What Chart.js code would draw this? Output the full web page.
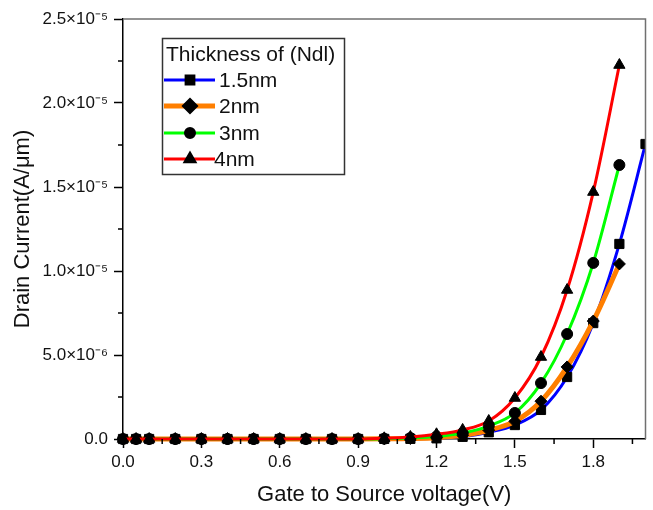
<!DOCTYPE html>
<html lang="en">
<head>
    <meta charset="UTF-8">
    <title>Drain current vs gate voltage</title>
    <style>
        html, body { margin: 0; padding: 0; background: #fff; }
        #wrap { width: 653px; height: 510px; }
    </style>
</head>
<body>
<div id="wrap"><canvas id="idChart" width="653" height="510"></canvas></div>

<script src="https://cdn.jsdelivr.net/npm/chart.js"></script>
<script>
// gate to source voltage (V)
const vgs = [0, 0.05, 0.1, 0.2, 0.3, 0.4, 0.5, 0.6, 0.7, 0.8, 0.9, 1.0, 1.1, 1.2, 1.3, 1.4, 1.5, 1.6, 1.7, 1.8, 1.9, 2.0];

// drain current (A/um)
const id15nm = [0, 0, 0, 0, 0, 0, 0, 0, 0, 0, 0, 0.005e-6, 0.01e-6, 0.04e-6, 0.13e-6, 0.40e-6, 0.83e-6, 1.73e-6, 3.69e-6, 6.90e-6, 1.161e-5, 1.756e-5];
const id2nm  = [0, 0, 0, 0, 0, 0, 0, 0, 0, 0, 0, 0.01e-6, 0.03e-6, 0.08e-6, 0.22e-6, 0.52e-6, 1.05e-6, 2.25e-6, 4.29e-6, 7.02e-6, 1.042e-5];
const id3nm  = [0, 0, 0, 0, 0, 0, 0, 0, 0, 0, 0, 0.02e-6, 0.06e-6, 0.15e-6, 0.36e-6, 0.77e-6, 1.55e-6, 3.33e-6, 6.25e-6, 1.048e-5, 1.631e-5];
const id4nm  = [0, 0, 0, 0, 0, 0, 0, 0, 0, 0, 0, 0.04e-6, 0.12e-6, 0.28e-6, 0.54e-6, 1.07e-6, 2.44e-6, 4.88e-6, 8.87e-6, 1.470e-5, 2.226e-5];

const seriesLabels = ['1.5nm', '2nm', '3nm', '4nm'];
const legendTitle = 'Thickness of (Ndl)';

// minor tick positions
const xMinorTicks = [0.15, 0.45, 0.75, 1.05, 1.35, 1.65, 1.95];
const yMinorTicks = [2.5e-6, 7.5e-6, 1.25e-5, 1.75e-5, 2.25e-5];

const FONT = '"Liberation Sans", Arial, sans-serif';

function pts(ys) {
    return ys.map((v, i) => ({x: vgs[i], y: v}));
}

const SUP = {'-': '\u207B', '0': '\u2070', '1': '\u00B9', '2': '\u00B2', '3': '\u00B3',
    '4': '\u2074', '5': '\u2075', '6': '\u2076', '7': '\u2077', '8': '\u2078', '9': '\u2079'};

function sciLabel(v) {
    if (Math.abs(v) < 1e-12) return '0.0';
    const e = Math.floor(Math.log10(v) + 1e-9);
    const m = v / Math.pow(10, e);
    return m.toFixed(1) + '\u00D710' + String(e).split('').map(c => SUP[c]).join('');
}

function makeSet(i, ys, color, width, style, radius) {
    return {
        label: seriesLabels[i],
        data: pts(ys),
        borderColor: color,
        borderWidth: width,
        pointStyle: style,
        pointRadius: radius,
        pointBackgroundColor: '#000',
        pointBorderColor: '#000',
        pointBorderWidth: 1,
        cubicInterpolationMode: 'monotone',
        clip: {left: false, top: false, right: 0, bottom: false},
        order: 4 - i
    };
}

const datasets = [
    makeSet(0, id15nm, '#0000FF', 3, 'rect', 6.5),
    makeSet(1, id2nm, '#FF7F00', 5, 'rectRot', 6),
    makeSet(2, id3nm, '#00FF00', 3, 'circle', 5.5),
    makeSet(3, id4nm, '#FF0000', 3, 'triangle', 6.5)
];

// frame, minor ticks and the boxed legend
const extras = {
    id: 'extras',
    afterDraw(chart) {
        const {ctx, chartArea: a, scales: {x, y}} = chart;
        ctx.save();
        ctx.strokeStyle = '#000';
        ctx.lineWidth = 1.5;
        ctx.beginPath();
        xMinorTicks.forEach(v => {
            const px = x.getPixelForValue(v);
            ctx.moveTo(px, a.bottom);
            ctx.lineTo(px, a.bottom + 5);
        });
        yMinorTicks.forEach(v => {
            const py = y.getPixelForValue(v);
            ctx.moveTo(a.left, py);
            ctx.lineTo(a.left - 5, py);
        });
        ctx.stroke();

        ctx.strokeStyle = '#707070';
        ctx.beginPath();
        ctx.moveTo(a.left, a.top);
        ctx.lineTo(a.right, a.top);
        ctx.lineTo(a.right, a.bottom);
        ctx.stroke();

        // legend
        const bx = 162.5, by = 38.5, bw = 182, bh = 136;
        ctx.fillStyle = '#fff';
        ctx.fillRect(bx, by, bw, bh);
        ctx.strokeStyle = '#333';
        ctx.lineWidth = 1.5;
        ctx.strokeRect(bx, by, bw, bh);

        ctx.fillStyle = '#111';
        ctx.font = '21px ' + FONT;
        ctx.textBaseline = 'middle';
        ctx.textAlign = 'left';
        ctx.fillText(legendTitle, 166, 55);

        const rows = [80, 106, 133, 159];
        chart.data.datasets.forEach((ds, i) => {
            const ry = rows[i];
            ctx.strokeStyle = ds.borderColor;
            ctx.lineWidth = ds.borderWidth;
            ctx.beginPath();
            ctx.moveTo(164, ry);
            ctx.lineTo(215, ry);
            ctx.stroke();
            ctx.fillStyle = '#000';
            ctx.strokeStyle = '#000';
            Chart.helpers.drawPoint(ctx, {
                pointStyle: ds.pointStyle,
                radius: ds.pointRadius - 1,
                rotation: 0,
                borderWidth: 1
            }, 190, ry);
            ctx.fillStyle = '#111';
            ctx.fillText(ds.label, i === 3 ? 214 : 219, ry + 1);
        });
        ctx.restore();
    }
};

new Chart(document.getElementById('idChart'), {
    type: 'line',
    data: {datasets: datasets},
    options: {
        responsive: false,
        animation: false,
        layout: {padding: {top: 19, right: 7, left: 0, bottom: 0}},
        plugins: {
            legend: {display: false},
            tooltip: {enabled: false}
        },
        scales: {
            x: {
                type: 'linear',
                min: 0,
                max: 2.0,
                afterFit: s => { s.height = 71; },
                ticks: {
                    stepSize: 0.3,
                    includeBounds: false,
                    padding: 4,
                    color: '#111',
                    font: {family: FONT, size: 17},
                    callback: v => v.toFixed(1)
                },
                grid: {drawOnChartArea: false, tickLength: 9, tickWidth: 1.5, tickColor: '#000'},
                border: {color: '#000', width: 1.5},
                title: {
                    display: true,
                    text: 'Gate to Source voltage(V)',
                    color: '#111',
                    font: {family: FONT, size: 22},
                    padding: {top: 0, bottom: 2}
                }
            },
            y: {
                min: 0,
                max: 2.5e-5,
                afterFit: s => { s.width = 123; },
                ticks: {
                    stepSize: 5e-6,
                    padding: 6,
                    color: '#111',
                    font: {family: FONT, size: 17},
                    callback: v => sciLabel(v)
                },
                grid: {drawOnChartArea: false, tickLength: 9, tickWidth: 1.5, tickColor: '#000'},
                border: {color: '#000', width: 1.5},
                title: {
                    display: true,
                    text: 'Drain Current(A/\u03BCm)',
                    color: '#111',
                    font: {family: FONT, size: 22},
                    padding: {top: 10, bottom: 0}
                }
            }
        }
    },
    plugins: [extras]
});
</script>
</body>
</html>
